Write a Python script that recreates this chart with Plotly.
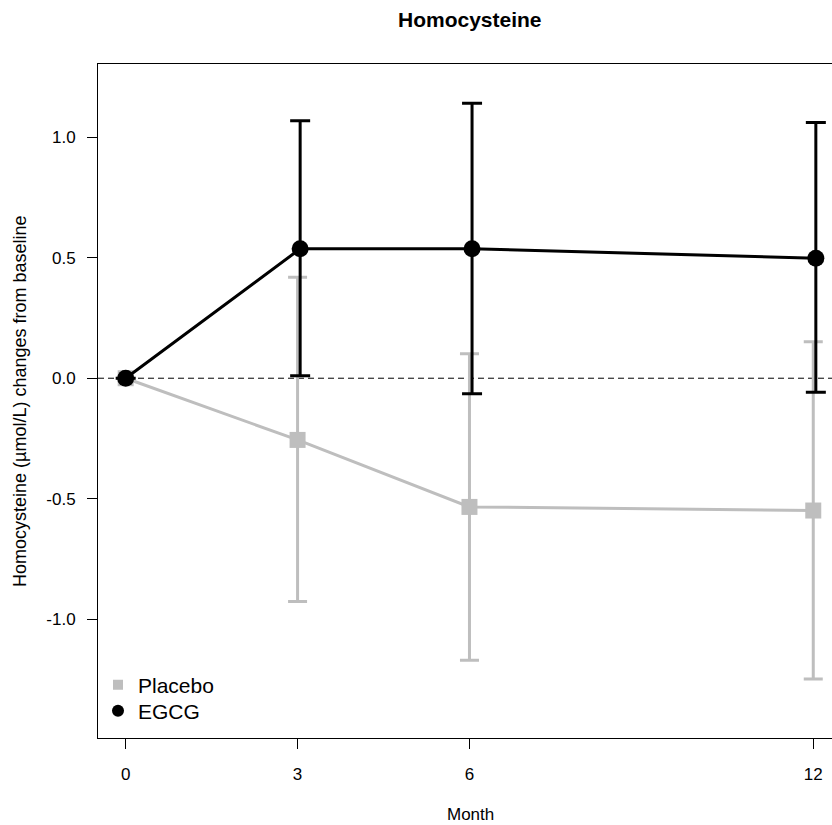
import plotly.graph_objects as go

months = [0, 3, 6, 12]
placebo_mean = [0.0, -0.256, -0.534, -0.549]
placebo_upper = [0.0, 0.419, 0.102, 0.151]
placebo_lower = [0.0, -0.927, -1.170, -1.248]
egcg_mean = [0.0, 0.537, 0.537, 0.498]
egcg_upper = [0.0, 1.069, 1.141, 1.061]
egcg_lower = [0.0, 0.010, -0.064, -0.058]
egcg_dx = 0.045

x_ticks = [0, 3, 6, 12]
x_ticklabels = ["0", "3", "6", "12"]
y_ticks = [1.0, 0.5, 0.0, -0.5, -1.0]
y_ticklabels = ["1.0", "0.5", "0.0", "-0.5", "-1.0"]

GRAY = "#BEBEBE"
FONT = "Liberation Sans, Arial, Helvetica, sans-serif"

fig = go.Figure()

pl_plus = [u - m for u, m in zip(placebo_upper, placebo_mean)]
pl_minus = [m - l for m, l in zip(placebo_mean, placebo_lower)]
eg_plus = [u - m for u, m in zip(egcg_upper, egcg_mean)]
eg_minus = [m - l for m, l in zip(egcg_mean, egcg_lower)]

fig.add_trace(go.Scatter(
    x=months, y=placebo_mean, mode="lines+markers",
    line=dict(color=GRAY, width=3),
    marker=dict(symbol="square", size=16, color=GRAY),
    error_y=dict(type="data", symmetric=False, array=pl_plus, arrayminus=pl_minus,
                 color=GRAY, thickness=3, width=9.5),
    showlegend=False, hoverinfo="skip"))

fig.add_trace(go.Scatter(
    x=[m + egcg_dx if m > 0 else m for m in months], y=egcg_mean, mode="lines+markers",
    line=dict(color="black", width=3),
    marker=dict(symbol="circle", size=17, color="black"),
    error_y=dict(type="data", symmetric=False, array=eg_plus, arrayminus=eg_minus,
                 color="black", thickness=3, width=10),
    showlegend=False, hoverinfo="skip"))

# legend entries (one legend per entry for exact row spacing)
fig.add_trace(go.Scatter(x=[None], y=[None], mode="markers", name="Placebo",
                         marker=dict(symbol="square", size=10, color=GRAY),
                         legend="legend"))
fig.add_trace(go.Scatter(x=[None], y=[None], mode="markers", name="EGCG",
                         marker=dict(symbol="circle", size=12, color="black"),
                         legend="legend2"))

fig.add_shape(type="line", xref="paper", x0=0, x1=1, yref="y", y0=0, y1=0,
              line=dict(color="black", width=1, dash="6px,4px"), layer="below")

legend_common = dict(x=0.0, xanchor="left", yanchor="middle",
                     bgcolor="rgba(0,0,0,0)", font=dict(size=21),
                     itemsizing="trace")

fig.update_layout(
    width=832, height=825,
    margin=dict(l=98, r=0, t=64, b=87),
    paper_bgcolor="white", plot_bgcolor="white",
    font=dict(family=FONT, color="black", size=17),
    xaxis=dict(range=[-0.483, 12.327], tickvals=x_ticks, ticktext=x_ticklabels,
               showgrid=False, zeroline=False, showline=True, mirror=True,
               linecolor="black", linewidth=1, ticks="outside", ticklen=10,
               tickcolor="black", tickwidth=1, ticklabelstandoff=11,
               tickfont=dict(size=17)),
    yaxis=dict(range=[-1.493, 1.304], tickvals=y_ticks, ticktext=y_ticklabels,
               showgrid=False, zeroline=False, showline=True, mirror=False,
               linecolor="black", linewidth=1, ticks="outside", ticklen=10,
               tickcolor="black", tickwidth=1, ticklabelstandoff=8,
               tickfont=dict(size=17)),
    legend=dict(y=0.0786, **legend_common),
    legend2=dict(y=0.040, **legend_common),
    annotations=[
        dict(text="<b>Homocysteine</b>", xref="paper", yref="paper",
             x=0.507, y=1, yshift=45, showarrow=False, xanchor="center",
             yanchor="middle", font=dict(size=21)),
        dict(text="Month", xref="paper", yref="paper", x=0.507, y=0,
             yshift=-76, showarrow=False, xanchor="center", yanchor="middle",
             font=dict(size=17)),
        dict(text="Homocysteine (\u00b5mol/L) changes from baseline", xref="paper",
             yref="paper", x=0, xshift=-78, y=0.5, showarrow=False,
             textangle=-90, xanchor="center", yanchor="middle",
             font=dict(size=18)),
    ],
)

fig.write_html("out.html")
